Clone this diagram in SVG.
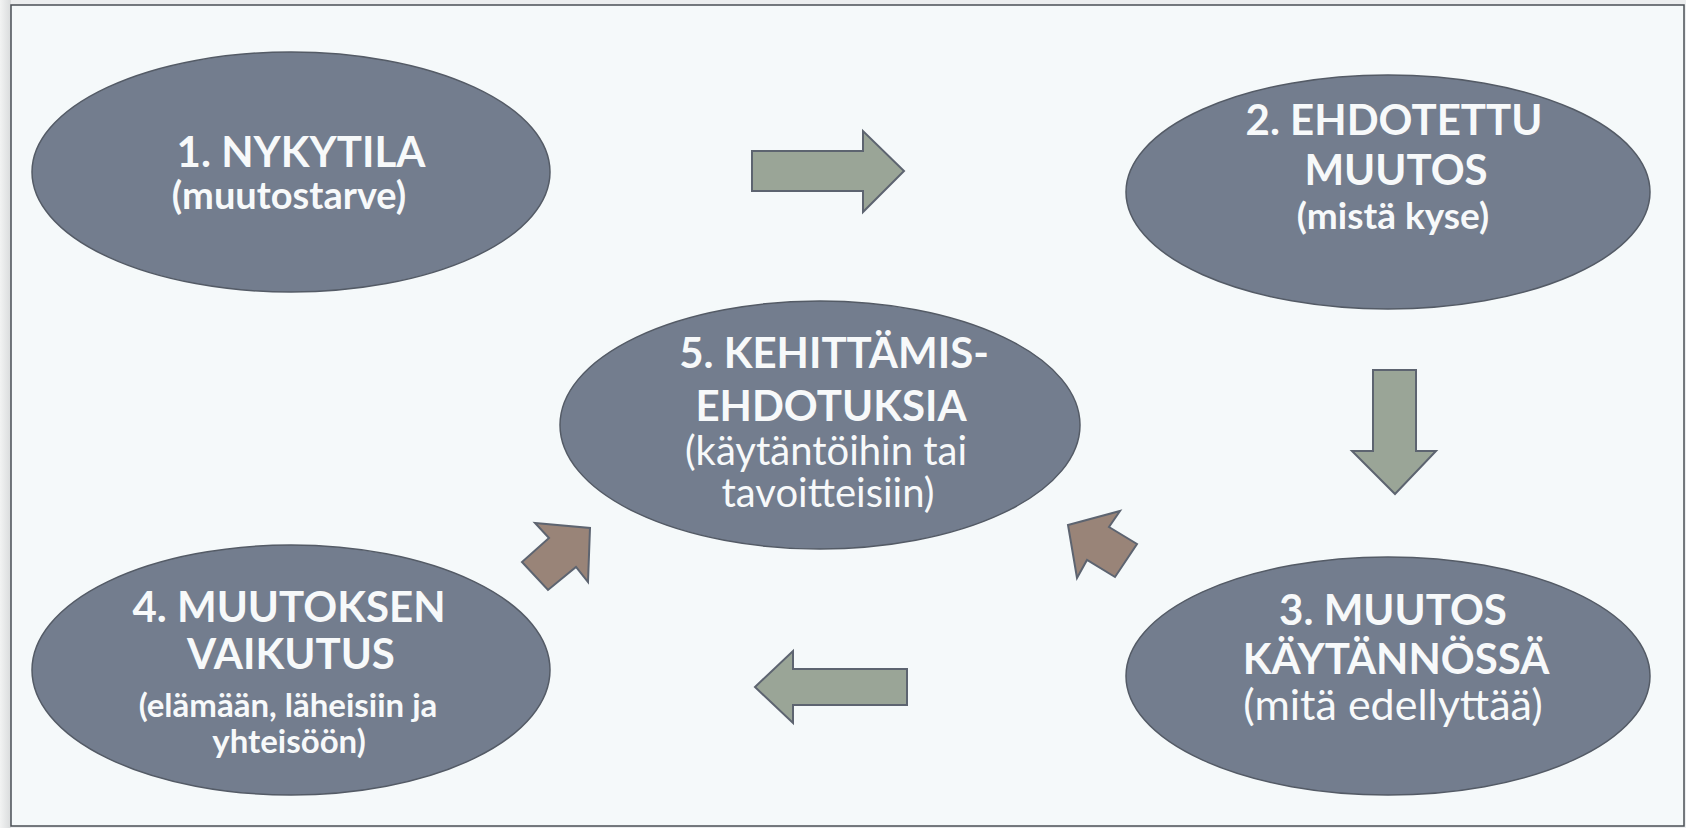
<svg xmlns="http://www.w3.org/2000/svg" width="1686" height="828" viewBox="0 0 1686 828">
<style>
.node ellipse{fill:#737d8e;stroke:#545b66;stroke-width:1.5}
.t{font-family:Lato,"Liberation Sans",sans-serif;fill:#f7f9fa;text-anchor:middle}
.h{font-size:42px;font-weight:bold}
.ga{fill:#9aa597;stroke:#5d6470;stroke-width:2;stroke-linejoin:miter}
.ba{fill:#998478;stroke:#5d6470;stroke-width:2;stroke-linejoin:miter}
</style>
<defs>
<linearGradient id="sh" x1="0" y1="0" x2="1" y2="0">
<stop offset="0" stop-color="#f2f3f3"/><stop offset="1" stop-color="#d9dbdc"/>
</linearGradient>
</defs>
<rect x="0" y="0" width="1686" height="828" fill="#eceeef"/>
<rect x="0" y="0" width="11" height="828" fill="url(#sh)"/>
<rect x="11" y="5" width="1673" height="821" fill="#f5f9fa" stroke="#4a4f55" stroke-width="1.5"/>
<g id="connectors">
<polygon class="ga" points="752,151 863,151 863,131 904,171 863,212 863,191 752,191"/>
<polygon class="ga" points="1373,370 1416,370 1416,451 1436,451 1395,494 1352,451 1373,451"/>
<polygon class="ga" points="907,669 793,669 793,651 755,687 793,723 793,705 907,705"/>
<polygon class="ba" points="590,528 588,582 576,567 548,590 522,562 549,538 535,523"/>
<polygon class="ba" points="1068,525 1120,511 1109,527 1137,544 1115,577 1087,560 1077,578"/>
</g>
<g id="node1" class="node">
<ellipse cx="291" cy="172" rx="259" ry="120"/>
<text class="t h" x="301" y="167">1. NYKYTILA</text>
<text class="t" x="289" y="209" font-size="38" font-weight="bold">(muutostarve)</text>
</g>
<g id="node2" class="node">
<ellipse cx="1388" cy="192" rx="262" ry="117"/>
<text class="t h" x="1394" y="135">2. EHDOTETTU</text>
<text class="t h" x="1396" y="185">MUUTOS</text>
<text class="t" x="1393" y="229" font-size="37" font-weight="bold">(mistä kyse)</text>
</g>
<g id="node5" class="node">
<ellipse cx="820" cy="425" rx="260" ry="124"/>
<text class="t h" x="834" y="368">5. KEHITTÄMIS-</text>
<text class="t h" x="831" y="421">EHDOTUKSIA</text>
<text class="t" x="826" y="465" font-size="40">(käytäntöihin tai</text>
<text class="t" x="828" y="507" font-size="40">tavoitteisiin)</text>
</g>
<g id="node4" class="node">
<ellipse cx="291" cy="670" rx="259" ry="125"/>
<text class="t h" x="289" y="622">4. MUUTOKSEN</text>
<text class="t h" x="291" y="669">VAIKUTUS</text>
<text class="t" x="288" y="717" font-size="33" font-weight="bold">(elämään, läheisiin ja</text>
<text class="t" x="289" y="753" font-size="33" font-weight="bold">yhteisöön)</text>
</g>
<g id="node3" class="node">
<ellipse cx="1388" cy="676" rx="262" ry="119"/>
<text class="t h" x="1393" y="625">3. MUUTOS</text>
<text class="t h" x="1396" y="674">KÄYTÄNNÖSSÄ</text>
<text class="t" x="1393" y="720" font-size="43">(mitä edellyttää)</text>
</g>
</svg>
